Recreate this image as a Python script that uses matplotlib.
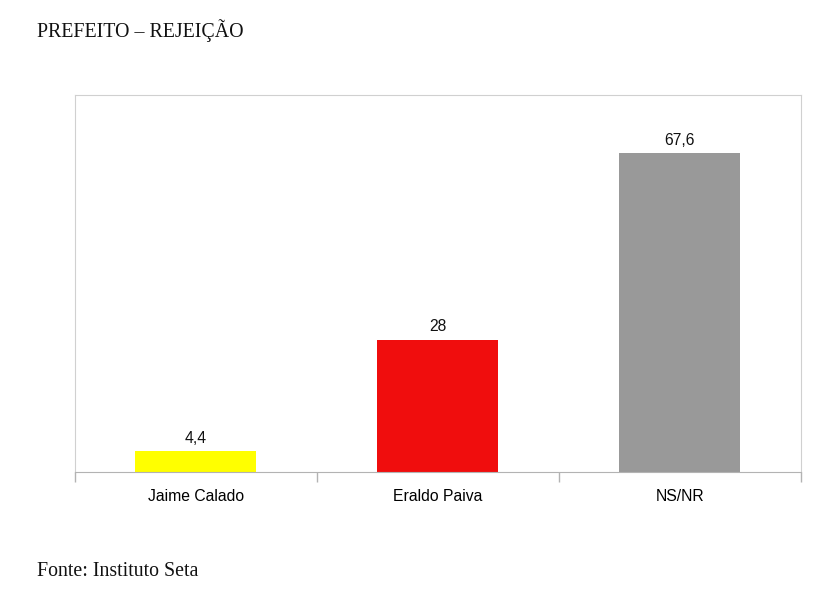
import matplotlib.pyplot as plt

categories = ["Jaime Calado", "Eraldo Paiva", "NS/NR"]
values = [4.4, 28, 67.6]
value_labels = ["4,4", "28", "67,6"]
colors = ["#ffff00", "#f00d0d", "#999999"]

fig = plt.figure(figsize=(8.2, 6.01), dpi=100)
ax = fig.add_axes([75 / 820, 129 / 601, 726 / 820, 377 / 601])

x = range(len(categories))
bars = ax.bar(x, values, width=0.5, color=colors)
for b, lab in zip(bars, value_labels):
    ax.text(b.get_x() + b.get_width() / 2, b.get_height() + 1.2, lab,
            ha="center", va="bottom", fontsize=11.3, family="Liberation Sans", color="#111111")

ax.set_xlim(-0.5, 2.5)
ax.set_ylim(0, 80)
ax.set_yticks([])
ax.set_xticks([-0.5, 0.5, 1.5, 2.5])
ax.set_xticklabels([])
ax.set_xticks(list(x), minor=True)
ax.set_xticklabels(categories, minor=True, fontsize=11.3, family="Liberation Sans")
ax.tick_params(axis="x", which="major", length=7, color="#b3b3b3", width=1)
ax.tick_params(axis="x", which="minor", length=0, pad=12)
for s in ["top", "left", "right"]:
    ax.spines[s].set_color("#d0d0d0")
ax.spines["bottom"].set_color("#b3b3b3")

fig.text(37 / 820, 1 - 31 / 601, "PREFEITO – REJEIÇÃO", family="Liberation Serif",
         fontsize=14.3, va="center", ha="left", color="#111111")
fig.text(37 / 820, 1 - 572 / 601, "Fonte: Instituto Seta", family="Liberation Serif",
         fontsize=14.3, va="center", ha="left", color="#111111")

fig.savefig("out.png", dpi=100)
